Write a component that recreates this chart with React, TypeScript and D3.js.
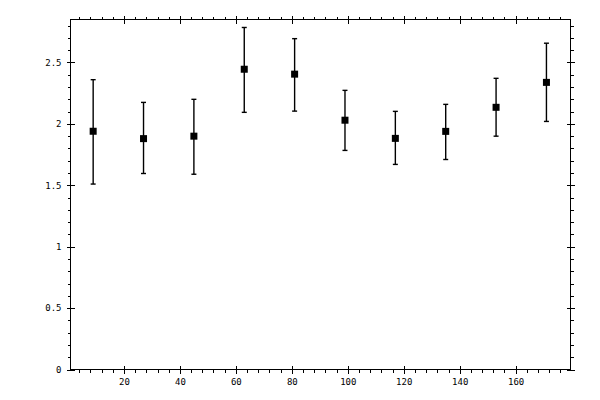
import { useEffect, useRef } from 'react'
import * as d3 from 'd3'

const W = 600, H = 400
const L = 70.5, R = 570.5, T = 19.5, B = 369.5

// data
const XS     = [9, 27, 45, 63, 81, 99, 117, 135, 153, 171]
const MEANS  = [1.94, 1.88, 1.90, 2.445, 2.405, 2.03, 1.882, 1.939, 2.135, 2.338]
const UPPER  = [2.36, 2.175, 2.20, 2.785, 2.694, 2.273, 2.102, 2.159, 2.371, 2.657]
const LOWER  = [1.51, 1.596, 1.59, 2.094, 2.104, 1.784, 1.67, 1.71, 1.90, 2.02]

const X_DOMAIN = [0.9, 179.6]
const Y_DOMAIN = [0, 2.85]
const X_MAJOR  = [20, 40, 60, 80, 100, 120, 140, 160]
const X_MINOR  = d3.range(4, 180, 4).filter(v => v % 20 !== 0)
const Y_MAJOR  = [0, 0.5, 1, 1.5, 2, 2.5]
const Y_MINOR  = d3.range(1, 29).map(v => v / 10).filter(v => Math.round(v * 10) % 5 !== 0)

const FONT = 'DejaVu Sans Mono, monospace'

export default function App() {
  const svgRef = useRef<SVGSVGElement>(null)

  useEffect(() => {
    const svg = d3.select(svgRef.current!)
    svg.selectAll('*').remove()

    const x = d3.scaleLinear().domain(X_DOMAIN).range([L, R])
    const y = d3.scaleLinear().domain(Y_DOMAIN).range([B, T])

    const styleAxis = (ax: d3.Selection<SVGGElement, unknown, null, undefined>) => {
      ax.select('.domain').remove()
      ax.selectAll('.tick line').attr('stroke', '#000').attr('shape-rendering', 'crispEdges')
      ax.selectAll('.tick text').attr('font-family', FONT).attr('font-size', 9).attr('fill', '#000')
    }

    // frame
    svg.append('rect')
      .attr('x', L).attr('y', T).attr('width', R - L).attr('height', B - T)
      .attr('fill', 'none').attr('stroke', '#000').attr('shape-rendering', 'crispEdges')

    // ── minor ticks, pointing outward ───────────────────────────────────
    svg.append('g').attr('transform', `translate(0,${B})`)
      .call(d3.axisBottom(x).tickValues(X_MINOR).tickSize(3).tickFormat(() => '')).call(styleAxis)
    svg.append('g').attr('transform', `translate(0,${T})`)
      .call(d3.axisTop(x).tickValues(X_MINOR).tickSize(3).tickFormat(() => '')).call(styleAxis)
    svg.append('g').attr('transform', `translate(${L},0)`)
      .call(d3.axisLeft(y).tickValues(Y_MINOR).tickSize(3).tickFormat(() => '')).call(styleAxis)
    svg.append('g').attr('transform', `translate(${R},0)`)
      .call(d3.axisRight(y).tickValues(Y_MINOR).tickSize(3).tickFormat(() => '')).call(styleAxis)

    // ── major ticks, crossing the frame ─────────────────────────────────
    for (const [pos, dirOut, dirIn] of [
      [B, d3.axisBottom, d3.axisTop],
      [T, d3.axisTop, d3.axisBottom],
    ] as const) {
      svg.append('g').attr('transform', `translate(0,${pos})`)
        .call(dirOut(x).tickValues(X_MAJOR).tickSize(4).tickFormat(() => '')).call(styleAxis)
      svg.append('g').attr('transform', `translate(0,${pos})`)
        .call(dirIn(x).tickValues(X_MAJOR).tickSize(4).tickFormat(() => '')).call(styleAxis)
    }
    for (const [pos, dirOut, dirIn] of [
      [L, d3.axisLeft, d3.axisRight],
      [R, d3.axisRight, d3.axisLeft],
    ] as const) {
      svg.append('g').attr('transform', `translate(${pos},0)`)
        .call(dirOut(y).tickValues(Y_MAJOR).tickSize(4).tickFormat(() => '')).call(styleAxis)
      svg.append('g').attr('transform', `translate(${pos},0)`)
        .call(dirIn(y).tickValues(Y_MAJOR).tickSize(4).tickFormat(() => '')).call(styleAxis)
    }

    // ── labels ──────────────────────────────────────────────────────────
    svg.append('g').attr('transform', `translate(0,${B})`)
      .call(d3.axisBottom(x).tickValues(X_MAJOR).tickSize(0).tickPadding(9).tickFormat(d => String(d)))
      .call(styleAxis)
    svg.append('g').attr('transform', `translate(${L},0)`)
      .call(d3.axisLeft(y).tickValues(Y_MAJOR).tickSize(0).tickPadding(9).tickFormat(d => String(d)))
      .call(styleAxis)

    // ── error bars + markers ────────────────────────────────────────────
    const g = svg.append('g')
    XS.forEach((xv, i) => {
      const cx = x(xv)
      g.append('line')
        .attr('x1', cx).attr('x2', cx).attr('y1', y(LOWER[i])).attr('y2', y(UPPER[i]))
        .attr('stroke', '#000').attr('stroke-width', 1.4)
      for (const v of [LOWER[i], UPPER[i]]) {
        g.append('line')
          .attr('x1', cx - 2.5).attr('x2', cx + 2.5).attr('y1', y(v)).attr('y2', y(v))
          .attr('stroke', '#000').attr('stroke-width', 1.4)
      }
      g.append('rect')
        .attr('x', cx - 3.5).attr('y', y(MEANS[i]) - 3.5)
        .attr('width', 7).attr('height', 7).attr('fill', '#000')
    })
  }, [])

  return (
    <div style={{ position: 'absolute', left: 0, top: 0, width: W, height: H, background: '#fff' }}>
      <svg ref={svgRef} width={W} height={H} viewBox={`0 0 ${W} ${H}`} style={{ display: 'block' }} />
    </div>
  )
}
